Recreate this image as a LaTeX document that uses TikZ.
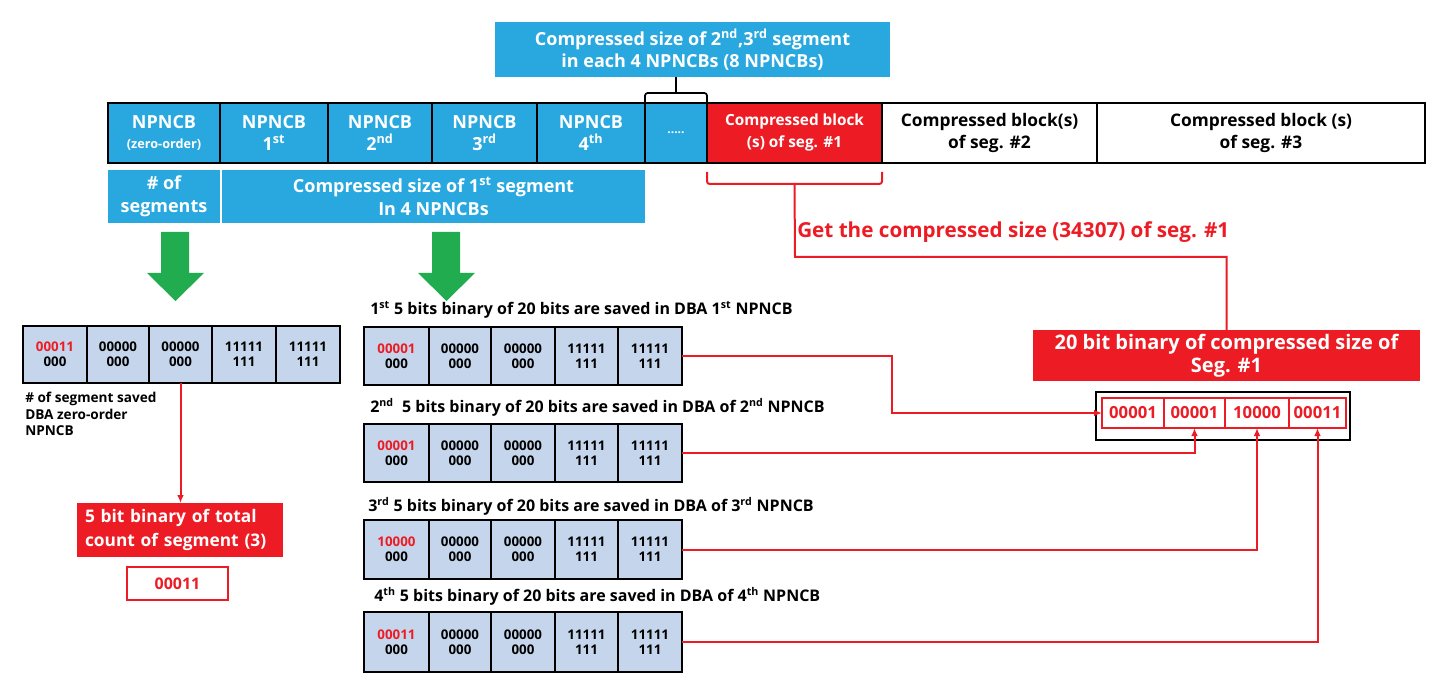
\documentclass[tikz,border=0pt]{standalone}
\usepackage{fontspec}
\setmainfont{Open Sans}
\usetikzlibrary{arrows.meta}
\definecolor{bblue}{RGB}{41,168,224}
\definecolor{rred}{RGB}{237,28,36}
\definecolor{ggreen}{RGB}{34,172,80}
\definecolor{lblue}{RGB}{197,214,236}
\newcommand\fsz[2]{\fontsize{#1}{#2}\selectfont}
% \bx[style]{name}{x1}{y1}{x2}{y2}{text}
\newcommand\bx[7][]{\node[#1, minimum width={(#5-#3)*0.75pt}, minimum height={(#6-#4)*0.75pt}, inner sep=0pt, outer sep=0pt] (#2) at ({(#3+#5)/2},{(#4+#6)/2}) {#7};}
% \bitrow{prefix}{y1}{y2}{red value}{x-pairs}
\newcommand\bitrow[5]{%
  \foreach[count=\k] \xa/\xb in {#5}{%
    \ifcase\k\or\def\celltxt{{\color{rred}#4}\\000}%
    \or\def\celltxt{00000\\000}\or\def\celltxt{00000\\000}%
    \or\def\celltxt{11111\\111}\or\def\celltxt{11111\\111}\fi
    \bx[bitcell]{#1\k}{\xa}{#2}{\xb}{#3}{\celltxt}
  }}
\begin{document}
\begin{tikzpicture}[x=0.75pt,y=-0.75pt,
  rline/.style={draw=rred, line width=1.5pt},
  rarr/.style={rline, -{Latex[length=6pt,width=5pt]}},
  bcell/.style={draw=black, line width=1.6pt, fill=bblue, text=white, align=center, font=\bfseries\fsz{13.5}{16.5}},
  wcell/.style={draw=black, line width=1.6pt, fill=white, text=black, align=center, font=\bfseries\fsz{13}{17}},
  bluebox/.style={fill=bblue, text=white, align=center, font=\bfseries\fsz{13.5}{17}},
  bitcell/.style={draw=black, line width=1.5pt, fill=lblue, align=center, font=\bfseries\fsz{10}{11.5}},
  lbl/.style={anchor=west, inner sep=0pt, font=\bfseries\fsz{12}{14}},
  redbox/.style={fill=rred, text=white, font=\bfseries\fsz{13}{18}},
  rcell/.style={draw=rred, line width=1.5pt, fill=white, text=rred, font=\bfseries\fsz{12.5}{14}},
  garrow/.style={fill=ggreen}
]
\useasboundingbox (0,0) rectangle (1442,698);

% title box
\bx[bluebox]{t23}{495}{22}{890}{77}{Compressed size of 2\textsuperscript{nd},3\textsuperscript{rd} segment\\in each 4 NPNCBs (8 NPNCBs)}

% top row
\bx[bcell]{z0}{108}{103}{220}{163}{NPNCB\\[-2pt]{\fsz{9.5}{11}(zero-order)}}
\bx[bcell]{n1}{220}{103}{328}{163}{NPNCB\\1\textsuperscript{st}}
\bx[bcell]{n2}{328}{103}{432}{163}{NPNCB\\2\textsuperscript{nd}}
\bx[bcell]{n3}{432}{103}{537}{163}{NPNCB\\3\textsuperscript{rd}}
\bx[bcell]{n4}{537}{103}{645}{163}{NPNCB\\4\textsuperscript{th}}
\bx[bcell]{dots}{645}{103}{707}{163}{{\fsz{9}{11}.....}}
\bx[bcell, fill=rred, font=\bfseries\fsz{11.5}{16.5}]{seg1}{707}{103}{882}{163}{Compressed block\\(s) of seg. \#1}
\bx[wcell]{seg2}{882}{103}{1097}{163}{Compressed block(s)\\of seg. \#2}
\bx[wcell]{seg3}{1097}{103}{1425}{163}{Compressed block (s)\\of seg. \#3}

% bracket above dots
\draw[line width=1.3pt, rounded corners=2pt] (dots.north west) -- ++(0,-10) -| (dots.north east);
\draw[line width=1.3pt] ([yshift=7.5pt]dots.north) -- (dots.north |- t23.south);

% second row
\bx[bluebox]{nseg}{108}{170}{220}{223}{\# of\\segments}
\bx[bluebox]{cs1}{222}{170}{645}{223}{Compressed size of 1\textsuperscript{st} segment\\In 4 NPNCBs}

% red bracket under seg1 and path to header
\draw[rline, rounded corners=2pt] ([yshift=-6.75pt]seg1.south west) -- ++(0,12) -| ([yshift=-6.75pt]seg1.south east);
\coordinate (bend) at (795,257);
\node[anchor=west, inner sep=0pt, text=rred, font=\bfseries\fsz{15.5}{18}] (get) at (797,232) {Get the compressed size (34307) of seg. \#1};

% green arrows
\fill[garrow] (161,232) -- (189,232) -- (189,273) -- (204,273) -- (175.5,301) -- (147,273) -- (161,273) -- cycle;
\fill[garrow] (432,232) -- (460,232) -- (460,273) -- (475,273) -- (446.5,301) -- (418,273) -- (432,273) -- cycle;

% left bit row
\bitrow{b}{326}{383}{00011}{23/87,87/149,149/212,212/276,276/340}
\node[anchor=north west, inner sep=0pt, align=left, font=\bfseries\fsz{10.2}{12.4}] (note) at (25,392) {\# of segment saved\\DBA zero-order\\NPNCB};
\bx[redbox, align=left, text width={190*0.75pt}]{tb}{77}{503}{283}{557}{5 bit binary of total\\count of segment (3)}
\bx[draw=rred, line width=1.5pt, text=rred, font=\bfseries\fsz{12}{14}]{tv}{127}{567}{228}{600}{00011}
\draw[rarr] (b3.south) -- (b3.south |- tb.north);

% middle rows
\node[lbl] (l1) at (370,310) {1\textsuperscript{st} 5 bits binary of 20 bits are saved in DBA 1\textsuperscript{st} NPNCB};
\bitrow{a1}{327}{385}{00001}{364/429,429/491,491/555,555/618,618/682}
\node[lbl] (l2) at (370,407) {2\textsuperscript{nd}\ \ 5 bits binary of 20 bits are saved in DBA of 2\textsuperscript{nd} NPNCB};
\bitrow{a2}{424}{482}{00001}{364/429,429/491,491/555,555/618,618/682}
\node[lbl] (l3) at (368,506) {3\textsuperscript{rd} 5 bits binary of 20 bits are saved in DBA of 3\textsuperscript{rd} NPNCB};
\bitrow{a3}{520}{579}{10000}{364/429,429/491,491/555,555/618,618/682}
\node[lbl] (l4) at (374,596) {4\textsuperscript{th} 5 bits binary of 20 bits are saved in DBA of 4\textsuperscript{th} NPNCB};
\bitrow{a4}{612}{672}{00011}{364/429,429/491,491/555,555/618,618/682}

% right side
\bx[redbox, align=center, font=\bfseries\fsz{15}{17}]{hdr}{1033}{330}{1420}{381}{20 bit binary of compressed size of\\Seg. \#1}
\bx[draw=black, line width=1.8pt]{ob}{1096}{392}{1350}{440}{}
\bx[rcell]{r1}{1102}{398}{1164}{428}{00001}
\bx[rcell]{r2}{1164}{398}{1225}{428}{00001}
\bx[rcell]{r3}{1225}{398}{1289}{428}{10000}
\bx[rcell]{r4}{1289}{398}{1346}{428}{00011}

\draw[rline] ([yshift=-15.75pt]seg1.south) -- (bend) -| (hdr.north);

% connectors
\draw[rarr] (a15.east) -- ++(210,0) |- (r1.west);
\draw[rarr] (a25.east) -| (r2.south);
\draw[rarr] (a35.east) -| (r3.south);
\draw[rarr] (a45.east) -| (r4.south);
\end{tikzpicture}
\end{document}
